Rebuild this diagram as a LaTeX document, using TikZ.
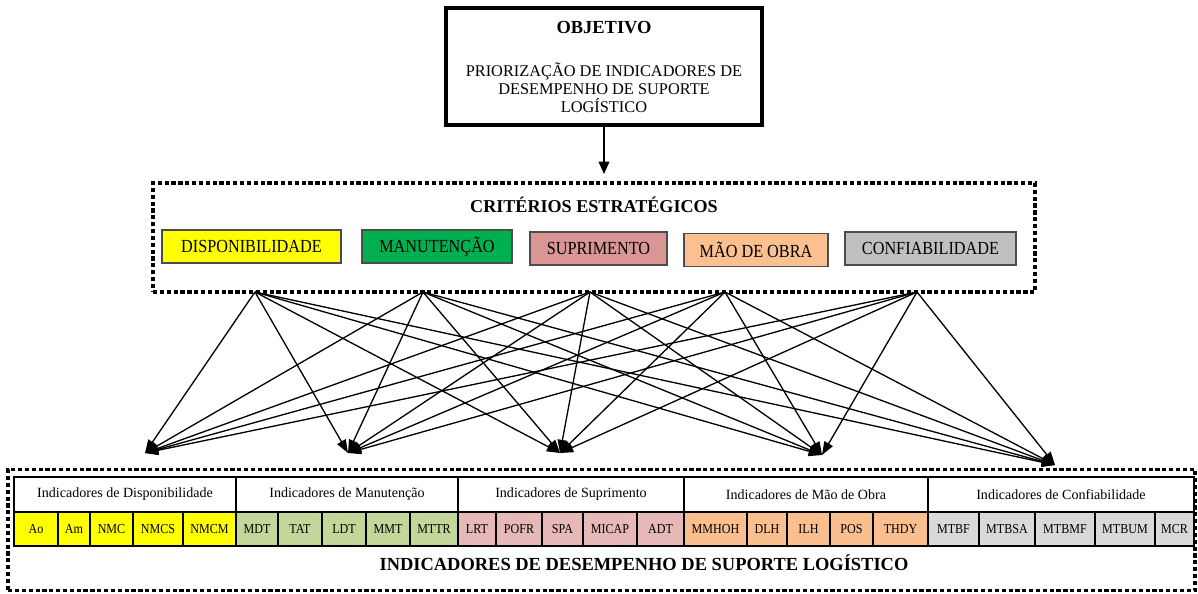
\documentclass[tikz,border=0pt]{standalone}
\usepackage{fontspec}
\setmainfont{Liberation Serif}
\newfontfamily\narrowfont[FakeStretch=0.88]{Liberation Serif}
\usetikzlibrary{arrows.meta}
\definecolor{amarelo}{HTML}{FFFF00}
\definecolor{verde}{HTML}{00B050}
\definecolor{rosa}{HTML}{D99694}
\definecolor{laranja}{HTML}{FAC090}
\definecolor{cinza}{HTML}{C0C0C0}
\definecolor{verdeclaro}{HTML}{C4D79B}
\definecolor{rosaclaro}{HTML}{E6B8B7}
\definecolor{laranjaclaro}{HTML}{FABF8F}
\definecolor{cinzaclaro}{HTML}{D9D9D9}
\begin{document}
\begin{tikzpicture}[x=0.02cm, y=-0.02cm,
    pontilhado/.style={draw, line width=2.2pt, dash pattern=on 2.4pt off 1.5pt},
    criterio/.style={draw=black!70, line width=0.8pt, minimum height=0.66cm, inner sep=0pt,
      font=\narrowfont\fontsize{10.5}{12}\selectfont},
    grupo/.style={draw, line width=0.9pt, minimum height=0.7cm, inner sep=0pt,
      font=\fontsize{8}{9}\selectfont},
    celula/.style={draw, line width=0.6pt, minimum height=0.68cm, inner sep=0pt,
      font=\narrowfont\fontsize{7.8}{9}\selectfont},
    seta/.style={line width=0.75pt, -{Triangle[length=7.5pt,width=5.5pt]}}]
  \useasboundingbox (0,0) rectangle (1198,594);
  % objetivo
  \node[draw, line width=2.3pt, minimum width=6.32cm, minimum height=2.34cm] (objetivo) at (604,66.5) {};
  \node[font=\bfseries\fontsize{10.5}{12}\selectfont] (titobj) at (604,28) {OBJETIVO};
  \node[align=center, font=\fontsize{9.3}{10.2}\selectfont] (prio) at (604,88)
    {PRIORIZAÇÃO DE INDICADORES DE\\DESEMPENHO DE SUPORTE\\LOGÍSTICO};
  % criterios estrategicos
  \node[pontilhado, minimum width=17.64cm, minimum height=2.18cm] (criterios) at (594,237.5) {};
  \draw[line width=0.9pt, -{Triangle[length=7pt,width=6pt]}] (objetivo.south)
    -- ([yshift=4pt]objetivo.south |- criterios.north);
  \node[font=\bfseries\fontsize{10.3}{12}\selectfont] (titcrit) at (594,205) {CRITÉRIOS ESTRATÉGICOS};
  \node[criterio, fill=amarelo, minimum width=3.58cm] (disp) at (251.5,246.5) {DISPONIBILIDADE};
  \node[criterio, fill=verde, minimum width=3.0cm] (manut) at (437,246.5) {MANUTENÇÃO};
  \node[criterio, fill=rosa, minimum width=2.74cm] (supr) at (598.5,248.5) {SUPRIMENTO};
  \node[criterio, fill=laranja, minimum width=2.88cm] (mao) at (756,250) {MÃO DE OBRA};
  \node[criterio, fill=cinza, minimum width=3.42cm] (conf) at (930.5,248.5) {CONFIABILIDADE};
  % saidas e chegadas das setas
  \coordinate (s1) at (255,292);
  \coordinate (s2) at (423,292);
  \coordinate (s3) at (590,292);
  \coordinate (s4) at (725,292);
  \coordinate (s5) at (917,292);
  \coordinate (t1) at (145,453);
  \coordinate (t2) at (348,453);
  \coordinate (t3) at (560,453);
  \coordinate (t4) at (822,455);
  \coordinate (t5) at (1055,465);
  \foreach \s in {1,...,5}
    \foreach \t in {1,...,5}
      \draw[seta] (s\s) -- (t\t);
  % indicadores
  \node[pontilhado, minimum width=23.74cm, minimum height=2.42cm] (indicadores) at (601.5,530) {};
  \node[grupo, minimum width=4.44cm] (gdisp) at (125,494.5) {Indicadores de Disponibilidade};
  \node[grupo, minimum width=4.44cm] (gmanut) at (347,494.5) {Indicadores de Manutenção};
  \node[grupo, minimum width=4.52cm] (gsupr) at (571,494.5) {Indicadores de Suprimento};
  \node[grupo, minimum width=4.88cm] (gmao) at (806,494.5) {Indicadores de Mão de Obra};
  \node[grupo, minimum width=5.32cm] (gconf) at (1061,494.5) {Indicadores de Confiabilidade};
  % disponibilidade
  \node[celula, fill=amarelo, minimum width=0.88cm] (ao) at (36,529) {Ao};
  \node[celula, fill=amarelo, minimum width=0.64cm] (am) at (74,529) {Am};
  \node[celula, fill=amarelo, minimum width=0.86cm] (nmc) at (111.5,529) {NMC};
  \node[celula, fill=amarelo, minimum width=1.0cm] (nmcs) at (158,529) {NMCS};
  \node[celula, fill=amarelo, minimum width=1.06cm] (nmcm) at (209.5,529) {NMCM};
  % manutencao
  \node[celula, fill=verdeclaro, minimum width=0.84cm] (mdt) at (257,529) {MDT};
  \node[celula, fill=verdeclaro, minimum width=0.88cm] (tat) at (300,529) {TAT};
  \node[celula, fill=verdeclaro, minimum width=0.88cm] (ldt) at (344,529) {LDT};
  \node[celula, fill=verdeclaro, minimum width=0.88cm] (mmt) at (388,529) {MMT};
  \node[celula, fill=verdeclaro, minimum width=0.96cm] (mttr) at (434,529) {MTTR};
  % suprimento
  \node[celula, fill=rosaclaro, minimum width=0.76cm] (lrt) at (477,529) {LRT};
  \node[celula, fill=rosaclaro, minimum width=0.92cm] (pofr) at (519,529) {POFR};
  \node[celula, fill=rosaclaro, minimum width=0.82cm] (spa) at (562.5,529) {SPA};
  \node[celula, fill=rosaclaro, minimum width=1.08cm] (micap) at (610,529) {MICAP};
  \node[celula, fill=rosaclaro, minimum width=0.94cm] (adt) at (660.5,529) {ADT};
  % mao de obra
  \node[celula, fill=laranjaclaro, minimum width=1.26cm] (mmhoh) at (715.5,529) {MMHOH};
  \node[celula, fill=laranjaclaro, minimum width=0.8cm] (dlh) at (767,529) {DLH};
  \node[celula, fill=laranjaclaro, minimum width=0.86cm] (ilh) at (808.5,529) {ILH};
  \node[celula, fill=laranjaclaro, minimum width=0.86cm] (pos) at (851.5,529) {POS};
  \node[celula, fill=laranjaclaro, minimum width=1.1cm] (thdy) at (900.5,529) {THDY};
  % confiabilidade
  \node[celula, fill=cinzaclaro, minimum width=1.02cm] (mtbf) at (953.5,529) {MTBF};
  \node[celula, fill=cinzaclaro, minimum width=1.12cm] (mtbsa) at (1007,529) {MTBSA};
  \node[celula, fill=cinzaclaro, minimum width=1.2cm] (mtbmf) at (1065,529) {MTBMF};
  \node[celula, fill=cinzaclaro, minimum width=1.2cm] (mtbum) at (1125,529) {MTBUM};
  \node[celula, fill=cinzaclaro, minimum width=0.78cm] (mcr) at (1174.5,529) {MCR};
  \node[font=\bfseries\fontsize{10.5}{12}\selectfont] (titind) at (644,563)
    {INDICADORES DE DESEMPENHO DE SUPORTE LOGÍSTICO};
\end{tikzpicture}
\end{document}
